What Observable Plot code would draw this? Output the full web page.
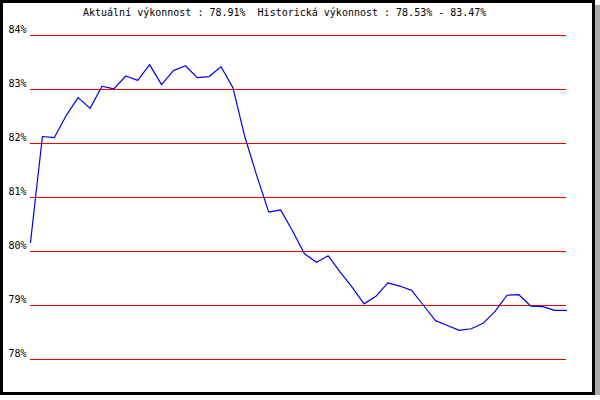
<!DOCTYPE html>
<html>
<head>
<meta charset="utf-8">
<script src="https://cdn.jsdelivr.net/npm/d3@7"></script>
<script src="https://cdn.jsdelivr.net/npm/@observablehq/plot@0.6"></script>
<style>
  body { margin: 0; background: #fff; }
  #box {
    position: relative;
    width: 595px; height: 395px;
    box-sizing: border-box;
    border: 3px solid #000;
    box-shadow: 5px 5px 0 #aaaaaa;
    background: #fff;
    font-family: "DejaVu Sans Mono", monospace;
  }
  #title {
    height: 18px; padding-top: 1px; padding-left: 80px;
    font-size: 10px; line-height: 18px;
    white-space: pre; color: #000;
  }
  #chart svg { display: block; }
</style>
</head>
<body>
<div id="box">
  <div id="title">Aktuální výkonnost : 78.91%  Historická výkonnost : 78.53% - 83.47%</div>
  <div id="chart"></div>
</div>
<script>
// vykonnost v procentech, jeden bod za obdobi
var values = [
  80.17, 82.13, 82.11, 82.52, 82.85, 82.65, 83.06, 83.01, 83.25, 83.17,
  83.46, 83.09, 83.35, 83.44, 83.22, 83.24, 83.42, 83.03, 82.12, 81.40,
  80.73, 80.77, 80.38, 79.96, 79.80, 79.92, 79.62, 79.34, 79.03, 79.17,
  79.42, 79.36, 79.28, 79.00, 78.72, 78.63, 78.54, 78.57, 78.67, 78.89,
  79.19, 79.20, 78.99, 78.98, 78.91, 78.91
];
var yTicks = [78, 79, 80, 81, 82, 83, 84];

var data = values.map((v, i) => ({i: i, v: v}));

var plot = Plot.plot({
  width: 589,
  height: 370,
  marginLeft: 27,
  marginRight: 26,
  marginTop: 13,
  marginBottom: 33,
  style: {fontFamily: '"DejaVu Sans Mono", monospace', fontSize: '10px', background: 'transparent'},
  x: {domain: [0, values.length - 1], axis: null},
  y: {domain: [78, 84], axis: null},
  marks: [
    Plot.ruleY(yTicks, {stroke: '#ee0000', strokeWidth: 1, shapeRendering: 'crispEdges'}),
    Plot.axisY(yTicks, {
      label: null,
      tickSize: 0,
      tickPadding: 4,
      dy: -6,
      fill: '#000',
      tickFormat: (d) => d + '%'
    }),
    Plot.line(data, {x: 'i', y: 'v', stroke: '#0000ee', strokeWidth: 1.2})
  ]
});

document.getElementById('chart').appendChild(plot);
</script>
</body>
</html>
